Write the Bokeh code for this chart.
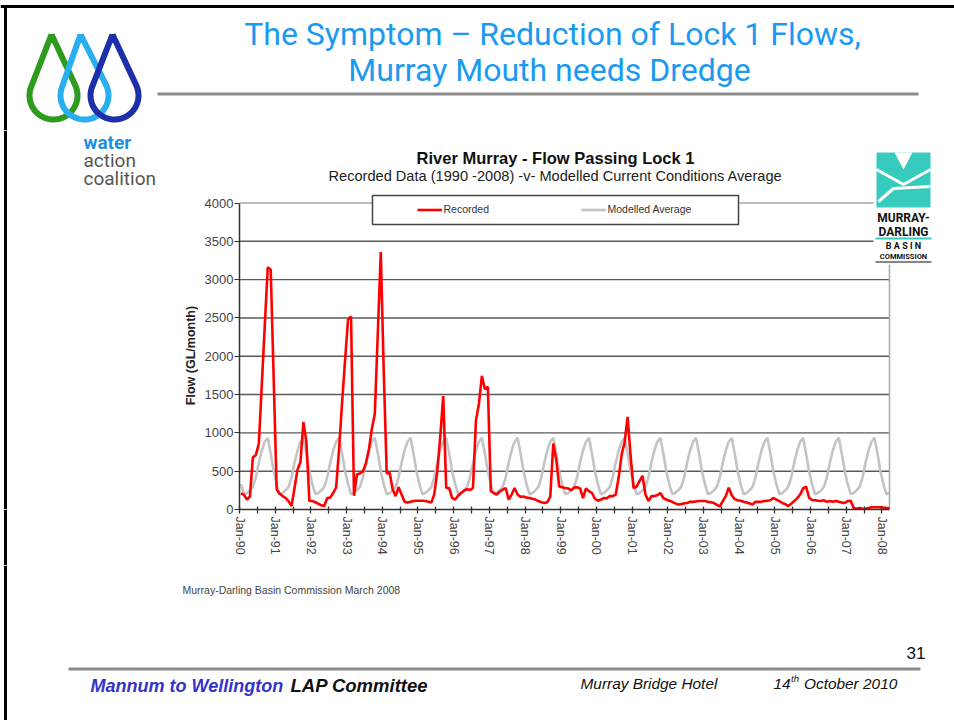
import math
from bokeh.plotting import figure
from bokeh.layouts import column, row
from bokeh.models import Range1d, FixedTicker, Legend, LegendItem
from bokeh.core.properties import value
from bokeh.embed import file_html
from bokeh.resources import INLINE

# ---------------- data ----------------
recorded = [
    210, 190, 130, 170, 680, 710, 860, 1630, 2400, 3160, 3130, 1700,
    260, 205, 175, 150, 110, 45, 280, 520, 620, 1140, 880, 110,
    110, 95, 75, 55, 45, 150, 155, 215, 290, 800, 1400, 1950,
    2480, 2520, 180, 460, 470, 500, 600, 780, 1050, 1250, 2300, 3360,
    1800, 470, 480, 260, 175, 290, 195, 100, 90, 100, 110, 115,
    115, 115, 110, 100, 90, 200, 500, 950, 1480, 280, 280, 150,
    130, 180, 215, 245, 265, 255, 280, 1160, 1380, 1745, 1570, 1600,
    240, 215, 195, 235, 260, 280, 130, 195, 280, 195, 165, 170,
    155, 150, 140, 130, 110, 95, 85, 95, 170, 860, 650, 300,
    290, 280, 275, 250, 285, 290, 275, 150, 275, 240, 215, 140,
    115, 130, 150, 145, 175, 175, 195, 420, 720, 880, 1210, 700,
    280, 300, 370, 440, 195, 110, 175, 175, 185, 215, 150, 130,
    115, 100, 80, 65, 70, 80, 85, 100, 100, 105, 110, 110,
    110, 100, 95, 85, 60, 40, 110, 175, 285, 185, 135, 120,
    115, 100, 90, 80, 65, 100, 100, 100, 110, 115, 120, 150,
    130, 110, 85, 70, 45, 75, 110, 145, 195, 275, 300, 155,
    125, 120, 115, 110, 120, 100, 110, 100, 110, 100, 90, 85,
    110, 115, 20, 10, 20, 10, 10, 20, 30, 30, 30, 30,
    25, 20, 20,
]
# modelled current conditions average, Jan..Dec
modelled_monthly = [330, 200, 215, 250, 295, 420, 610, 770, 885, 935, 730, 500]
tick_labels = ["Jan-90", "Jan-91", "Jan-92", "Jan-93", "Jan-94", "Jan-95", "Jan-96",
               "Jan-97", "Jan-98", "Jan-99", "Jan-00", "Jan-01", "Jan-02", "Jan-03",
               "Jan-04", "Jan-05", "Jan-06", "Jan-07", "Jan-08"]
y_ticks = [0, 500, 1000, 1500, 2000, 2500, 3000, 3500, 4000]

n = len(recorded)
xs = [i + 0.5 for i in range(n)]          # mid-month positions (months since Jan-90)
modelled = [modelled_monthly[i % 12] for i in range(n)]
major = [12 * k for k in range(len(tick_labels))]
minor = [12 * k + 6 for k in range(len(tick_labels) - 1)]
X_END = 218.55
Y_END = 4000

# ---------------- page geometry (pixels) ----------------
PW, PH = 954, 720
HEAD_H = 130          # header band
MID_TOP, MID_BOT = 130, 565
LEFT_W = 198
FL, FB, FT, FR = 239, 509, 202.5, 889   # chart data-area edges on the page
ppm = (FR - FL) / X_END
ppu = (FB - FT) / Y_END

AX = "Liberation Sans"
TF = "Roboto"


def canvas(w, h, x0, y0):
    f = figure(width=w, height=h, x_range=Range1d(x0, x0 + w), y_range=Range1d(y0 + h, y0),
               min_border=0, toolbar_location=None, output_backend="svg")
    f.axis.visible = False
    f.grid.visible = False
    f.outline_line_color = None
    f.background_fill_color = "white"
    f.border_fill_color = "white"
    return f


def txt(f, x, y, s, size, color="#222222", font=AX, style="normal", align="left",
        baseline="middle", **kw):
    f.text(x=[x], y=[y], text=[s], text_font=value(font), text_font_size=value(f"{size}px"),
           text_font_style=style, text_color=color, text_align=align,
           text_baseline=baseline, **kw)


def drop_pts(tx, ty, cx, cy, r):
    vx, vy = tx - cx, ty - cy
    d = math.hypot(vx, vy)
    phi = math.atan2(vy, vx)
    beta = math.acos(r / d)
    a0, a1 = phi + beta, phi - beta + 2 * math.pi
    px, py = [tx], [ty]
    for k in range(49):
        a = a0 + (a1 - a0) * k / 48
        px.append(cx + r * math.cos(a))
        py.append(cy + r * math.sin(a))
    px.append(tx)
    py.append(ty)
    return px, py


# ---------------- header ----------------
head = canvas(PW, HEAD_H, 0, 0)
head.segment(x0=[0], y0=[6], x1=[PW], y1=[6], line_color="black", line_width=3)
head.segment(x0=[5], y0=[5], x1=[5], y1=[HEAD_H], line_color="black", line_width=3)
txt(head, 552, 33, "The Symptom \u2013 Reduction of Lock 1 Flows,", 32, "#1a9af0", TF, align="center")
txt(head, 549, 69, "Murray Mouth needs Dredge", 32, "#1a9af0", TF, align="center")
head.segment(x0=[157], y0=[93.5], x1=[918], y1=[93.5], line_color="#8c8c8c", line_width=3)
for (tx, ty, cx, cy, r, col) in [(51, 34, 53, 95, 24, "#2e9a1e"),
                                 (80, 34, 84, 95, 24, "#29aef0"),
                                 (112, 34, 114, 95, 24, "#1c2fa8")]:
    dx, dy = drop_pts(tx, ty, cx, cy, r)
    head.line(dx, dy, line_color=col, line_width=6, line_join="round")

# ---------------- left band (two pieces) ----------------
left_a = canvas(LEFT_W, FB - MID_TOP, 0, MID_TOP)
left_a.segment(x0=[5], y0=[MID_TOP], x1=[5], y1=[FB], line_color="black", line_width=3)
txt(left_a, 83, 142, "water", 19, "#1e8fe0", TF, style="bold")
txt(left_a, 83, 160, "action", 19, "#555555", TF)
txt(left_a, 83, 178, "coalition", 19, "#555555", TF)
txt(left_a, 190, 355, "Flow (GL/month)", 12.5, "#222222", AX, style="bold", align="center",
    angle=math.pi / 2)
left_b = canvas(LEFT_W, MID_BOT - FB, 0, FB)
left_b.segment(x0=[5], y0=[FB], x1=[5], y1=[MID_BOT], line_color="black", line_width=3)

# ---------------- chart ----------------
MW = PW - LEFT_W
MH = MID_BOT - MID_TOP
x_max = X_END + (PW - FR) / ppm
y_max = Y_END + (FT - MID_TOP) / ppu
p = figure(width=MW, height=MH, output_backend="svg", toolbar_location=None,
           x_range=Range1d(0, x_max), y_range=Range1d(0, y_max),
           min_border_left=FL - LEFT_W, min_border_right=0, min_border_top=0,
           min_border_bottom=MID_BOT - FB)
p.extra_x_ranges = {"px": Range1d(FL, PW)}
p.extra_y_ranges = {"py": Range1d(FB, MID_TOP)}
p.background_fill_color = "white"
p.border_fill_color = "white"
p.outline_line_color = None
p.grid.visible = False

xa = p.xaxis[0]
xa.bounds = (0, X_END)
xa.ticker = FixedTicker(ticks=major, minor_ticks=minor)
xa.major_label_overrides = {m: lab for m, lab in zip(major, tick_labels)}
xa.major_label_orientation = -math.pi / 2
xa.major_label_text_font = AX
xa.major_label_text_font_size = "12.5px"
xa.major_label_text_color = "#444444"
xa.major_label_standoff = 3
xa.axis_line_color = "#333333"
xa.axis_line_width = 1.5
xa.major_tick_in = 3
xa.major_tick_out = 4
xa.minor_tick_in = 3
xa.minor_tick_out = 4
xa.major_tick_line_color = "#333333"
xa.minor_tick_line_color = "#333333"
xa.major_tick_line_width = 1.3
xa.minor_tick_line_width = 1.3

ya = p.yaxis[0]
ya.bounds = (0, Y_END)
ya.ticker = FixedTicker(ticks=y_ticks)
ya.major_label_text_font = AX
ya.major_label_text_font_size = "13px"
ya.major_label_text_color = "#444444"
ya.major_label_standoff = 1
ya.axis_line_color = "#333333"
ya.axis_line_width = 1.5
ya.major_tick_in = 0
ya.major_tick_out = 5
ya.minor_tick_line_color = None
ya.major_tick_line_color = "#333333"

# horizontal gridlines and the light plot-area border, limited to the data area
g = y_ticks[1:-1]
p.segment(x0=[0] * len(g), x1=[X_END] * len(g), y0=g, y1=g, line_color="#5a5a5a", line_width=1.4)
p.segment(x0=[0, X_END], x1=[X_END, X_END], y0=[Y_END, 0], y1=[Y_END, Y_END],
          line_color="#a8a8a8", line_width=1.5)

r_mod = p.line(xs, modelled, line_color="#c4c4c4", line_width=2.6)
r_rec = p.line(xs, recorded, line_color="#ff0000", line_width=2.6)

PX = dict(x_range_name="px", y_range_name="py")
txt(p, 555, 157, "River Murray - Flow Passing Lock 1", 16.5, "#111111", AX, style="bold",
    align="center", **PX)
txt(p, 555, 175, "Recorded Data (1990 -2008) -v- Modelled Current Conditions Average", 14.6,
    "#222222", AX, align="center", **PX)

# legend frame
p.quad(left=[372], right=[738], top=[195], bottom=[224], fill_color="white",
       line_color="#444444", line_width=1.5, **PX)
legend = Legend(items=[LegendItem(label="Recorded", renderers=[r_rec]),
                       LegendItem(label="Modelled Average", renderers=[r_mod])],
                orientation="horizontal", location=(416.5 - FL, FB - 224 + 5.5),
                padding=5, margin=0, spacing=17, glyph_width=25, glyph_height=19,
                label_height=19, label_width=120, label_standoff=2,
                label_text_font=AX, label_text_font_size="10.5px", label_text_color="#333333",
                border_line_color=None, background_fill_alpha=0.0)
p.add_layout(legend)

# Murray-Darling Basin Commission logo
TEAL = "#36cbbd"
p.quad(left=[873], right=[933], top=[149], bottom=[264], fill_color="white", line_color=None, **PX)
p.quad(left=[876], right=[930], top=[152], bottom=[207], fill_color=TEAL, line_color=None, **PX)
p.patch([894, 912, 903], [152, 152, 169], fill_color="white", line_color=None, **PX)
p.line([876, 903, 930], [169, 184, 169], line_color="white", line_width=3, **PX)
p.line([878, 893, 930], [201, 188, 186], line_color="white", line_width=3, **PX)
txt(p, 903, 217, "MURRAY-", 12, "#111111", TF, style="bold", align="center", **PX)
txt(p, 903, 231, "DARLING", 12, "#111111", TF, style="bold", align="center", **PX)
p.quad(left=[875], right=[931], top=[237], bottom=[239], fill_color=TEAL, line_color=None, **PX)
txt(p, 903, 245, "B A S I N", 9, "#111111", TF, style="bold", align="center", **PX)
txt(p, 903, 256, "COMMISSION", 7.5, "#111111", TF, style="bold", align="center", **PX)
p.quad(left=[875], right=[931], top=[261], bottom=[262], fill_color="#111111", line_color=None, **PX)

# ---------------- footer ----------------
foot = canvas(PW, PH - MID_BOT, 0, MID_BOT)
foot.segment(x0=[5], y0=[MID_BOT], x1=[5], y1=[PH], line_color="black", line_width=3)
txt(foot, 182, 589, "Murray-Darling Basin Commission March 2008", 10.5, "#444444", AX)
txt(foot, 925, 652, "31", 17, "#111111", AX, align="right")
foot.segment(x0=[68], y0=[668.5], x1=[920], y1=[668.5], line_color="#8c8c8c", line_width=3)
txt(foot, 90, 685, "Mannum to Wellington", 18, "#3333cc", AX, style="bold italic")
txt(foot, 290, 685, "LAP Committee", 18.5, "#111111", AX, style="bold italic")
txt(foot, 580, 683, "Murray Bridge Hotel", 15.4, "#111111", AX, style="italic")
txt(foot, 773, 683, "14", 15.4, "#111111", AX, style="italic")
txt(foot, 790.5, 678, "th", 9.5, "#111111", AX, style="italic")
txt(foot, 803.5, 683, "October 2010", 15.4, "#111111", AX, style="italic")

layout = column(head, row(column(left_a, left_b, spacing=0), p, spacing=0), foot, spacing=0)
open("out.html", "w").write(file_html(layout, INLINE))
